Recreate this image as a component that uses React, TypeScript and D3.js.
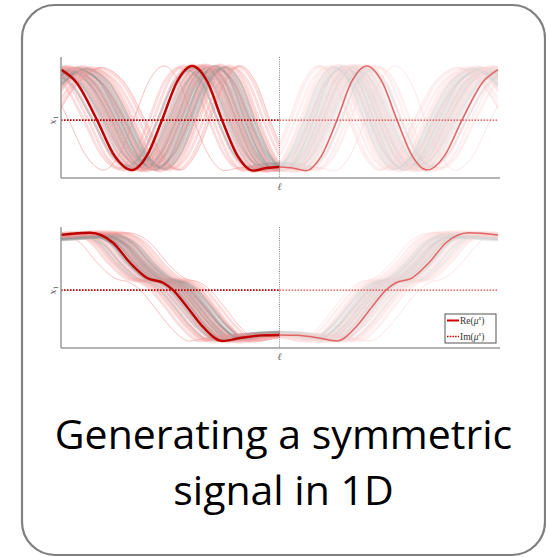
import React from "react";
import * as d3 from "d3";

// Mean signal (left half, ℓ ≤ 0); the signal is symmetric in ℓ
const L_TOP = [-1.25, -1.14, -1.03, -1.0, -0.93, -0.835, -0.755, -0.675, -0.606, -0.538, -0.469, -0.4, -0.33, -0.263, -0.192, -0.121, -0.06, 0];
const V_TOP = [0, 0.71, 1.0, 0.96, 0.72, 0, -0.68, -0.95, -0.67, 0, 0.73, 1.03, 0.73, 0, -0.68, -0.96, -0.91, -0.89];

const L_BOT = [-1.25, -1.0, -0.867, -0.762, -0.684, -0.606, -0.533, -0.487, -0.423, -0.35, -0.263, -0.181, -0.08, 0];
const V_BOT = [1.0, 1.05, 1.09, 0.9, 0.52, 0.23, 0.14, 0.0, -0.32, -0.7, -0.967, -0.91, -0.86, -0.853];

// Sample time shifts (ℓ units) and amplitudes
const TOP_GRAY_SHIFT = [0.02, 0.04, 0.05, 0.06, 0.07, 0.08, 0.09, 0.1, 0.11, 0.12, 0.13, 0.14, 0.03, 0.065, 0.085, 0.105, 0.125, 0.0, -0.02, 0.15];
const TOP_GRAY_AMP = [0.97, 0.93, 1.0, 0.95, 0.9, 0.98, 0.94, 0.92, 0.99, 0.96, 0.91, 0.95, 0.9, 0.97, 0.93, 1.0, 0.94, 0.96, 0.92, 0.98];
const TOP_PINK_SHIFT = [-0.04, -0.02, 0.0, 0.01, 0.03, 0.05, 0.07, 0.09, 0.11, 0.13, 0.15, 0.17, 0.19, 0.21, -0.06, 0.04, 0.08, 0.12, 0.16, 0.06];
const TOP_PINK_AMP = [1.0, 0.98, 1.02, 0.96, 1.0, 0.97, 1.01, 0.99, 0.95, 1.02, 0.98, 1.0, 0.96, 0.99, 0.97, 1.01, 0.98, 1.0, 0.97, 1.02];
const TOP_THIN_SHIFT = [-0.13, 0.22];

const BOT_GRAY_SHIFT = [-0.06, -0.04, -0.02, 0.0, 0.01, 0.02, 0.03, 0.04, 0.05, 0.06, 0.07, 0.08, 0.09, 0.1, -0.01, 0.035, 0.055, 0.075, 0.11, 0.015];
const BOT_GRAY_AMP = [0.97, 0.95, 1.0, 0.96, 0.93, 0.98, 0.94, 0.99, 0.95, 0.97, 0.92, 0.96, 0.98, 0.94, 0.99, 0.95, 0.97, 0.93, 0.96, 1.0];
const BOT_PINK_SHIFT = [-0.1, -0.08, -0.05, -0.03, -0.01, 0.01, 0.03, 0.05, 0.07, 0.09, 0.11, 0.13, 0.15, -0.07, 0.0, 0.04, 0.08, 0.12, 0.02, 0.06];
const BOT_PINK_AMP = [1.0, 0.98, 1.01, 0.97, 1.0, 0.99, 1.02, 0.98, 0.96, 1.0, 0.97, 1.01, 0.99, 0.98, 1.0, 0.97, 1.02, 0.99, 0.98, 1.0];
const BOT_THIN_SHIFT = [-0.15, 0.17];

const TITLE_LINES = ["Generating a symmetric", "signal in 1D"];

const W = 546;
const H = 557;
const X0 = 61;
const X1 = 498;
const xS = d3.scaleLinear().domain([-1, 1]).range([X0, X1]);
const XM = xS(0);

function symmetric(ls: number[], vs: number[]) {
  const pts: [number, number][] = ls.map((l, i) => [l, vs[i]]);
  for (let i = ls.length - 2; i >= 0; i--) pts.push([-ls[i], vs[i]]);
  return pts;
}

type PanelProps = {
  id: string;
  top: number;
  bottom: number;
  ls: number[];
  vs: number[];
  grayShift: number[];
  grayAmp: number[];
  pinkShift: number[];
  pinkAmp: number[];
  thinShift: number[];
  legend?: boolean;
};

function Panel(p: PanelProps) {
  const yS = d3.scaleLinear().domain([-1.1, 1.2]).range([p.bottom, p.top]);
  const base = symmetric(p.ls, p.vs);
  const line = d3
    .line<[number, number]>()
    .x((d) => xS(d[0]))
    .y((d) => yS(d[1]))
    .curve(d3.curveMonotoneX);
  const shifted = (s: number, a: number, mirror: boolean) => {
    const pts = base.map(([l, v]) => [mirror ? -(l + s) : l + s, v * a] as [number, number]);
    if (mirror) pts.reverse();
    return line(pts) || "";
  };
  const n = Math.max(p.grayShift.length, p.pinkShift.length);
  const half = (mirror: boolean) => {
    const items: React.ReactNode[] = [];
    for (let i = 0; i < n; i++) {
      if (i < p.grayShift.length)
        items.push(
          <path key={"g" + i} d={shifted(p.grayShift[i], p.grayAmp[i], mirror)} fill="none" stroke="#959595" strokeOpacity={0.4} strokeWidth={2.2} />
        );
      if (i < p.pinkShift.length)
        items.push(
          <path key={"p" + i} d={shifted(p.pinkShift[i], p.pinkAmp[i], mirror)} fill="none" stroke="#f7a3a3" strokeOpacity={0.38} strokeWidth={2.8} />
        );
    }
    p.thinShift.forEach((s, i) =>
      items.push(
        <path key={"t" + i} d={shifted(s, 1, mirror)} fill="none" stroke="#f28c8c" strokeOpacity={0.6} strokeWidth={0.9} />
      )
    );
    return items;
  };
  const meanL = line(base.filter((d) => d[0] >= -1 && d[0] <= 0)) || "";
  const meanR = line(base.filter((d) => d[0] >= 0 && d[0] <= 1)) || "";
  const y0 = yS(0);
  return (
    <g>
      <defs>
        <clipPath id={p.id + "L"}>
          <rect x={X0} y={p.top - 5} width={XM - X0} height={p.bottom - p.top + 5} />
        </clipPath>
        <clipPath id={p.id + "R"}>
          <rect x={XM} y={p.top - 5} width={X1 - XM} height={p.bottom - p.top + 5} />
        </clipPath>
      </defs>
      <g clipPath={`url(#${p.id}L)`}>{half(false)}</g>
      <g clipPath={`url(#${p.id}R)`} opacity={0.42}>{half(true)}</g>
      <path d={meanL} fill="none" stroke="#c00000" strokeWidth={2.4} />
      <path d={meanR} fill="none" stroke="#e05050" strokeWidth={1.5} strokeOpacity={0.85} />
      <line x1={X0} x2={XM} y1={y0} y2={y0} stroke="#c00000" strokeWidth={1.8} strokeDasharray="1.6,1.4" />
      <line x1={XM} x2={X1} y1={y0} y2={y0} stroke="#e04848" strokeWidth={1.2} strokeDasharray="1.6,1.4" />
      <line x1={XM} x2={XM} y1={p.top} y2={p.bottom} stroke="#777" strokeWidth={0.9} strokeDasharray="1,1.2" />
      <line x1={X0} x2={X0} y1={p.top} y2={p.bottom} stroke="#9a9a9a" strokeWidth={1.5} />
      <line x1={X0} x2={500} y1={p.bottom} y2={p.bottom} stroke="#9a9a9a" strokeWidth={1.5} />
      <text
        x={0}
        y={0}
        transform={`translate(${X0 - 5},${y0}) rotate(-90)`}
        textAnchor="middle"
        fontFamily="DejaVu Serif"
        fontStyle="italic"
        fontSize={9}
        fill="#666"
      >
        x
        <tspan fontSize={6} fontStyle="normal" dy={2}>1</tspan>
      </text>
      <text x={XM} y={p.bottom + 12} textAnchor="middle" fontFamily="DejaVu Serif" fontStyle="italic" fontSize={10} fill="#666">
        ℓ
      </text>
      {p.legend && (
        <g fontFamily="Liberation Serif" fontSize={9.5} fill="#333">
          <rect x={445} y={314} width={51} height={29} fill="#fff" stroke="#555" strokeWidth={1} />
          <line x1={447} x2={459} y1={320.5} y2={320.5} stroke="#d00000" strokeWidth={2} />
          <line x1={447} x2={459} y1={336.5} y2={336.5} stroke="#d00000" strokeWidth={1.6} strokeDasharray="1.5,1.2" />
          <text x={460} y={324}>
            Re(<tspan fontStyle="italic">μ</tspan>
            <tspan fontSize={6} fontStyle="italic" dy={-4}>x</tspan>
            <tspan dy={4}>)</tspan>
          </text>
          <text x={460} y={340}>
            Im(<tspan fontStyle="italic">μ</tspan>
            <tspan fontSize={6} fontStyle="italic" dy={-4}>x</tspan>
            <tspan dy={4}>)</tspan>
          </text>
        </g>
      )}
    </g>
  );
}

export default function App() {
  return (
    <div style={{ position: "absolute", left: 0, top: 0 }}>
      <svg width={W} height={H} viewBox={`0 0 ${W} ${H}`} style={{ display: "block" }}>
        <rect x={0} y={0} width={W} height={H} fill="#fff" />
        <rect x={22} y={5} width={523} height={550} rx={33} ry={33} fill="#fff" stroke="#7f7f7f" strokeWidth={2.2} />
        <Panel
          id="top"
          top={57}
          bottom={178}
          ls={L_TOP}
          vs={V_TOP}
          grayShift={TOP_GRAY_SHIFT}
          grayAmp={TOP_GRAY_AMP}
          pinkShift={TOP_PINK_SHIFT}
          pinkAmp={TOP_PINK_AMP}
          thinShift={TOP_THIN_SHIFT}
        />
        <Panel
          id="bot"
          top={227}
          bottom={348}
          ls={L_BOT}
          vs={V_BOT}
          grayShift={BOT_GRAY_SHIFT}
          grayAmp={BOT_GRAY_AMP}
          pinkShift={BOT_PINK_SHIFT}
          pinkAmp={BOT_PINK_AMP}
          thinShift={BOT_THIN_SHIFT}
          legend
        />
        {TITLE_LINES.map((t, i) => (
          <text key={i} x={283.5} y={449 + i * 56} textAnchor="middle" fontFamily="Open Sans" fontSize={41} fill="#000">
            {t}
          </text>
        ))}
      </svg>
    </div>
  );
}
